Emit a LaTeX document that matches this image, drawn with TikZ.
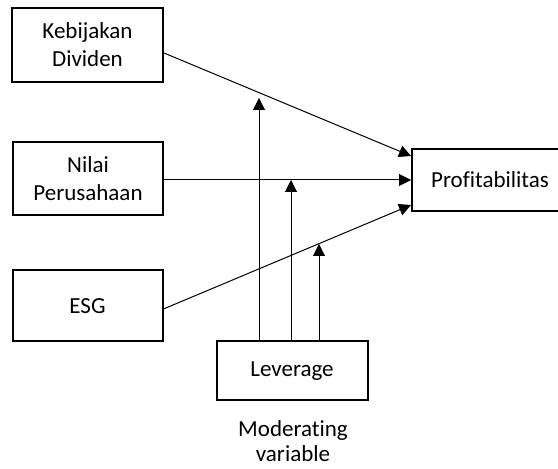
\documentclass[tikz,border=0pt]{standalone}
\usepackage{fontspec}
\setmainfont[Ligatures=NoCommon]{Carlito}
\usetikzlibrary{arrows.meta}
\begin{document}
\begin{tikzpicture}[x=0.5pt,y=-0.5pt,
  box/.style={draw, line width=1pt, align=center, inner sep=0pt,
    font=\fontsize{11.5}{14}\selectfont},
  conn/.style={line width=0.5pt, -{Triangle[length=6pt,width=6pt]}},
  lbl/.style={align=center, inner sep=0pt, font=\fontsize{11.5}{12.5}\selectfont}]
\useasboundingbox (0,0) rectangle (558,469);
\node[box, minimum width=75.5pt, minimum height=37pt] (K) at (87.5,45) {Kebijakan\\Dividen};
\node[box, minimum width=75pt, minimum height=36.5pt] (N) at (88,179) {Nilai\\Perusahaan};
\node[box, minimum width=75pt, minimum height=35.5pt] (E) at (87.5,306) {ESG};
\node[box, minimum width=78pt, minimum height=31pt] (P) at (490,180) {Profitabilitas};
\node[box, minimum width=75.5pt, minimum height=29.5pt] (L) at (292,371) {Leverage};
\node[lbl] (M) at (293,441) {Moderating\\variable};
\coordinate (t1) at (259,98);
\coordinate (t2) at (291,180);
\coordinate (t3) at (319,244);
\draw[conn] ([yshift=-4pt]K.east) -- ([yshift=-4pt]P.north west);
\draw[conn] (N.east |- P.west) -- (P.west);
\draw[conn] ([yshift=-1.5pt]E.east) -- ([yshift=3.5pt]P.south west);
\draw[conn] (t1 |- L.north) -- (t1);
\draw[conn] (t2 |- L.north) -- (t2);
\draw[conn] (t3 |- L.north) -- (t3);
\end{tikzpicture}
\end{document}
